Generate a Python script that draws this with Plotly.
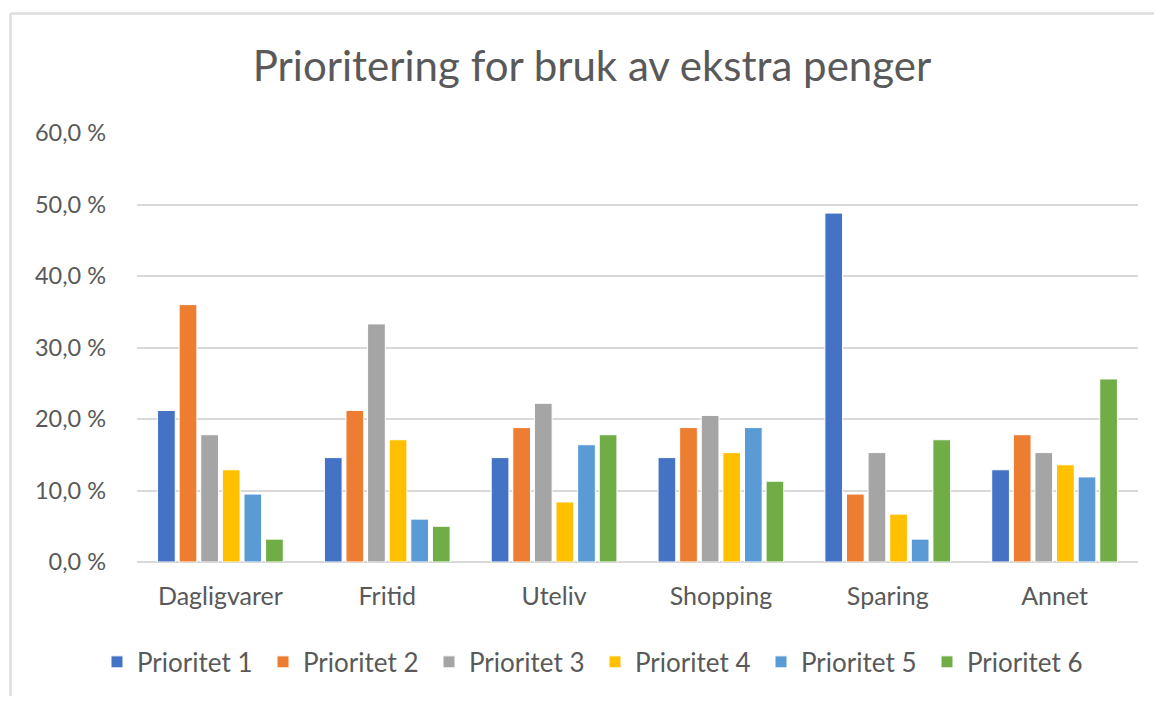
import plotly.graph_objects as go

categories = ["Dagligvarer", "Fritid", "Uteliv", "Shopping", "Sparing", "Annet"]
series_names = ["Prioritet 1", "Prioritet 2", "Prioritet 3", "Prioritet 4", "Prioritet 5", "Prioritet 6"]
prioritet_1 = [21.2, 14.6, 14.6, 14.6, 48.8, 12.9]
prioritet_2 = [36.0, 21.2, 18.8, 18.8, 9.5, 17.8]
prioritet_3 = [17.8, 33.3, 22.2, 20.5, 15.3, 15.3]
prioritet_4 = [12.9, 17.1, 8.4, 15.3, 6.7, 13.6]
prioritet_5 = [9.5, 6.0, 16.4, 18.8, 3.2, 11.9]
prioritet_6 = [3.2, 5.0, 17.8, 11.3, 17.1, 25.6]
colors = ["#4472C4", "#ED7D31", "#A5A5A5", "#FFC000", "#5B9BD5", "#70AD47"]
tick_vals = [0, 10, 20, 30, 40, 50, 60]
tick_text = ["0,0 %", "10,0 %", "20,0 %", "30,0 %", "40,0 %", "50,0 %", "60,0 %"]

all_series = [prioritet_1, prioritet_2, prioritet_3, prioritet_4, prioritet_5, prioritet_6]

FONT = "Lato"
TXT = "#595959"
W, H = 1146, 688

fig = go.Figure()
for name, vals, col in zip(series_names, all_series, colors):
    fig.add_trace(go.Bar(x=categories, y=vals, name=name,
                         marker=dict(color=col, line=dict(color="white", width=1))))

fig.update_layout(
    width=W, height=H,
    barmode="group", bargap=0.223, bargroupgap=0.18,
    paper_bgcolor="white", plot_bgcolor="white",
    margin=dict(l=129, r=16, t=125, b=134, autoexpand=False),
    title=dict(text="Prioritering for bruk av ekstra penger", x=(592 - 8) / W, xanchor="center",
               y=1 - 58 / H, yanchor="middle",
               font=dict(family=FONT, size=42, color=TXT)),
    font=dict(family=FONT, color=TXT, size=24),
    xaxis=dict(showline=False, showgrid=False, ticks="", ticklabelstandoff=17,
               tickfont=dict(size=25, color=TXT)),
    yaxis=dict(range=[0, 60], tickvals=tick_vals, ticktext=tick_text, showgrid=True,
               gridcolor="#D9D9D9", gridwidth=1.5, zeroline=True, zerolinecolor="#D9D9D9",
               zerolinewidth=1.5, showline=False, ticks="", ticklabelstandoff=30,
               tickfont=dict(size=23.5, color=TXT)),
    legend=dict(orientation="h", xref="container", x=(595 - 8) / W, xanchor="center",
                y=-0.233, yanchor="middle",
                font=dict(size=26, color=TXT), itemwidth=30, entrywidth=121,
                entrywidthmode="pixels", traceorder="normal"),
    shapes=[
        dict(type="line", xref="paper", yref="paper",
             x0=(10.5 - 137) / 1001, x1=1.2, y0=(562 - 13.5) / 429, y1=(562 - 13.5) / 429,
             line=dict(color="#DDDDDD", width=2.5), layer="below"),
        dict(type="line", xref="paper", yref="paper",
             x0=(10.5 - 137) / 1001, x1=(10.5 - 137) / 1001, y0=-0.5, y1=(562 - 13.5) / 429,
             line=dict(color="#DDDDDD", width=2.5), layer="below"),
    ],
)

fig.write_html("out.html")
